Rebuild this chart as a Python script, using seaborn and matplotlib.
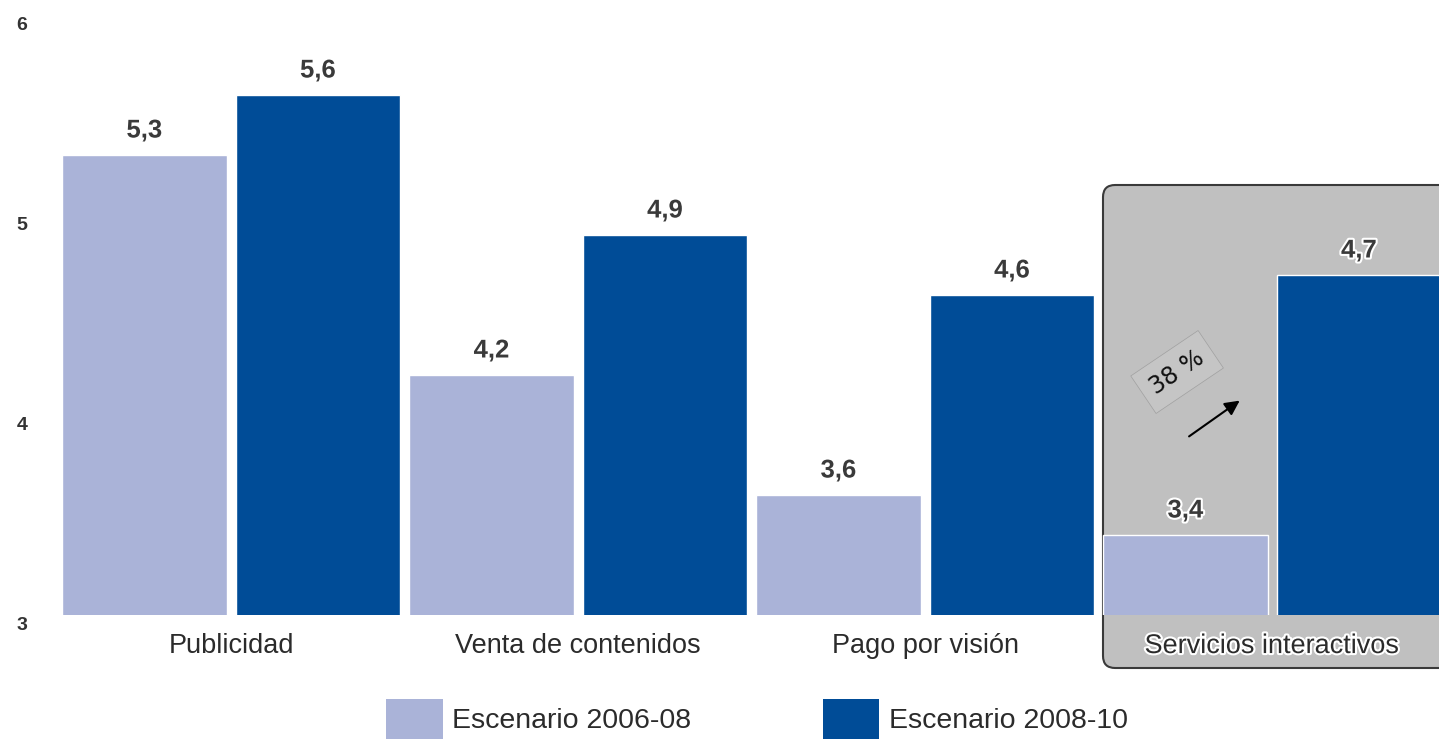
import matplotlib
matplotlib.use("Agg")
import matplotlib.pyplot as plt
import matplotlib.patheffects as pe
from matplotlib.patches import FancyBboxPatch, Patch
from matplotlib.transforms import ScaledTranslation
import pandas as pd
import seaborn as sns

# Data: revenue by business line under two scenarios
categorias = ["Publicidad", "Venta de contenidos", "Pago por visión", "Servicios interactivos"]
escenarios = ["Escenario 2006-08", "Escenario 2008-10"]
valores_2006_08 = [5.3, 4.2, 3.6, 3.4]
valores_2008_10 = [5.6, 4.9, 4.6, 4.7]
y_ticks = [3, 4, 5, 6]
destacada = "Servicios interactivos"

colores = ["#aab3d8", "#004c97"]
texto = "#2b2b2b"

df = pd.DataFrame({
    "categoria": categorias * 2,
    "escenario": [escenarios[0]] * len(categorias) + [escenarios[1]] * len(categorias),
    "valor": valores_2006_08 + valores_2008_10,
})

sns.set_theme(style="white")
plt.rcParams["font.family"] = ["Liberation Sans", "DejaVu Sans"]

W, H = 1439, 740
fig = plt.figure(figsize=(W / 100, H / 100), dpi=100)
ax = fig.add_axes([62 / W, 1 - 615 / H, (W - 62) / W, 600 / H])

sns.barplot(data=df, x="categoria", y="valor", hue="escenario", order=categorias,
            hue_order=escenarios, palette=colores, width=1.0, gap=0.05,
            edgecolor="white", linewidth=1.0, saturation=1.0, legend=False, ax=ax)

ax.set_ylim(y_ticks[0], y_ticks[-1])
ax.set_xlim(-0.4875, -0.4875 + (W - 62) / 347)
ax.set_yticks(y_ticks)
ax.set_yticklabels([str(t) for t in y_ticks])
ax.set_xlabel("")
ax.set_ylabel("")
for s in ax.spines.values():
    s.set_visible(False)
ax.tick_params(axis="y", length=0, pad=25, labelsize=14, labelcolor="#333333")
ax.tick_params(axis="x", length=0, pad=13, labelsize=19.5, labelcolor=texto)
off = ScaledTranslation(0, -6 / 72, fig.dpi_scale_trans)
for lab in ax.get_yticklabels():
    lab.set_transform(lab.get_transform() + off)
    lab.set_fontweight("bold")
halo = [pe.withStroke(linewidth=3, foreground="white")]
for lab in ax.get_xticklabels():
    if lab.get_text() == destacada:
        lab.set_path_effects(halo)

# Value labels with decimal comma
for cont, vals in zip(ax.containers, [valores_2006_08, valores_2008_10]):
    labs = ax.bar_label(cont, labels=[f"{v:.1f}".replace(".", ",") for v in vals],
                        padding=9, fontsize=18.5, fontweight="bold", color="#3a3a3a")
    for t in labs:
        t.set_path_effects(halo)

# Highlight panel behind the last category
i = categorias.index(destacada)
x_px, y_px = 347, 200
panel = FancyBboxPatch((i - 0.4875, 2.735), 1.2, 5.15 - 2.735,
                       boxstyle="round,pad=0,rounding_size=0.035",
                       mutation_aspect=x_px / y_px,
                       facecolor="#c0c0c0", edgecolor="#3a3a3a", linewidth=1.5,
                       zorder=0.5, clip_on=False)
ax.add_patch(panel)

# Growth annotation between the two scenarios
a, b = valores_2006_08[i], valores_2008_10[i]
crec = round((b - a) / a * 100)
ax.annotate("", xy=(i - 0.087, a + 0.68), xytext=(i - 0.246, a + 0.485),
            arrowprops=dict(arrowstyle="-|>", color="black", lw=1.5, mutation_scale=22),
            zorder=3)
ax.text(i - 0.274, a + 0.815, f"{crec} %", rotation=34, ha="center", va="center",
        fontsize=17, color="#111111", family=["DejaVu Sans"], rotation_mode="anchor",
        bbox=dict(boxstyle="square,pad=0.45", facecolor="#c5c5c5",
                  edgecolor="#a0a0a0", linewidth=0.5), zorder=3)

# Legend
handles = [Patch(facecolor=c, edgecolor="none", label=l) for c, l in zip(colores, escenarios)]
fig.legend(handles=handles, loc="center", bbox_to_anchor=(757 / W, 1 - 719 / H), ncol=2,
           frameon=False, fontsize=20.5, handlelength=2.0, handleheight=1.75,
           handletextpad=0.33, columnspacing=4.6, borderpad=0, labelcolor=texto)

fig.savefig("out.png", dpi=100, facecolor="white")
